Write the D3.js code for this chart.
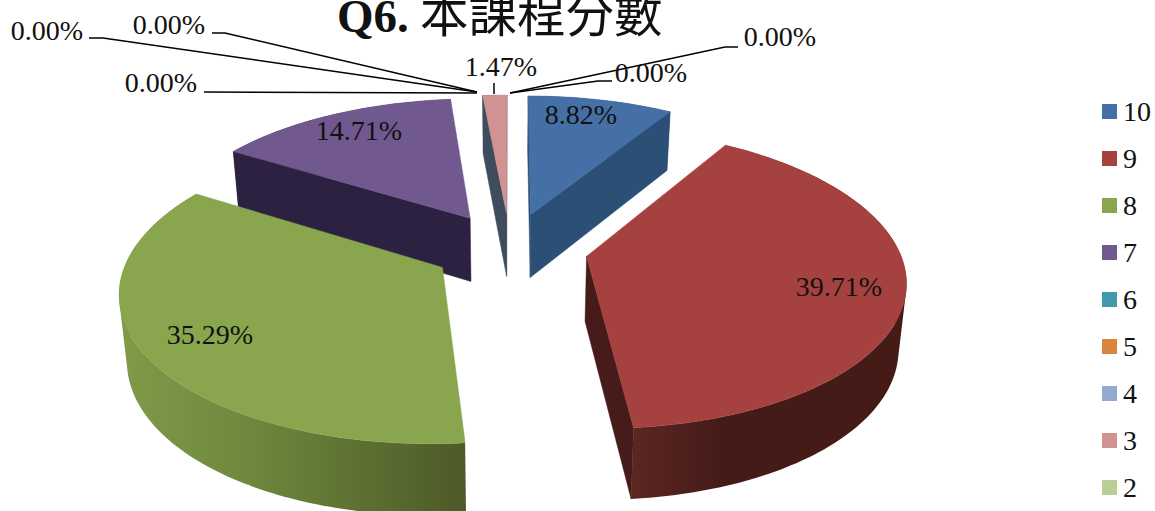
<!DOCTYPE html>
<html><head><meta charset="utf-8">
<script src="https://cdn.jsdelivr.net/npm/d3@7"></script>
<style>
html,body{margin:0;padding:0;background:#fff;overflow:hidden}
svg{display:block}
text{font-family:"Liberation Serif",serif;fill:#111}
</style></head><body>
<svg id="c" width="1155" height="511"></svg>
<script>
// ---- data ----
const categories = ["10","9","8","7","6","5","4","3","2","1"];
const shares = [8.82,39.71,35.29,14.71,0,0,0,1.47,0,0];
const legendItems = ["10","9","8","7","6","5","4","3","2"];
const topColors = ["#4570A6","#A5423F","#89A54E","#71588F","#4198AF","#DB843D","#93A9CF","#D19392","#B9CD96","#A99BBD"];
const sideColors = ["#2C4F76","#471B19","#4F5D2A","#2C2140","#2A6070","#8A5222","#5E6D86","#3E4C5E","#76845F","#6B6278"];
// ---- layout ----
const W = 1155, H = 511;
const cx = 510, cy = 248, explode = 0.25, tilt = 0.145, halfDepth = 64.5, depthTilt = 0.09, baseShrink = 0.98;
const labelText = [
  {i:0,x:581,y:124},{i:1,x:839,y:296},{i:2,x:210,y:344},{i:3,x:359,y:140},
  {i:4,x:47,y:40},{i:5,x:169,y:34},{i:6,x:161,y:92},{i:7,x:501,y:76},{i:8,x:651,y:82},{i:9,x:780,y:46}
];
const leaders = [
  [[89,38],[103,38],[477,92]],
  [[212,33],[225,33],[477,92]],
  [[204,92],[477,93]],
  [[494,83],[494,94]],
  [[612,81],[598,81],[510,93]],
  [[738,47],[725,47],[510,93]]
];
const wallStops = {
  1:[[632,"#5C2723"],[720,"#451B18"],[905,"#451B18"]],
  2:[[120,"#7F9A48"],[240,"#6F8A3F"],[465,"#4D5A28"]]
};
const svg = d3.select("#c");
const defs = svg.append("defs");
Object.keys(wallStops).forEach(i=>{
  const st=wallStops[i], x0=st[0][0], x1=st[st.length-1][0];
  const lg=defs.append("linearGradient").attr("id","wall"+i).attr("gradientUnits","userSpaceOnUse")
    .attr("x1",x0).attr("x2",x1).attr("y1",0).attr("y2",0);
  lg.selectAll("stop").data(st).join("stop")
    .attr("offset",d=>(d[0]-x0)/(x1-x0)).attr("stop-color",d=>d[1]);
});
const xS = d3.scaleLinear().domain([0,1]).range([0,312]);
const yS = d3.scaleLinear().domain([0,1]).range([0,144.6]);
const persp = Y => 1/(1-tilt*Y);
function project(X,Y,low){
  const p = persp(Y);
  const x = xS(X)*p, y = yS(Y)*p;
  return low ? [cx+x*baseShrink, cy+y+halfDepth/(1-depthTilt*Y)] : [cx+x, cy+y];
}
const pie = d3.pie().sort(null).value(d=>d);
const arcs = pie(shares);
const poly = pts => "M"+pts.map(p=>p.join(",")).join("L")+"Z";
const cross=(o,a,b)=>(a[0]-o[0])*(b[1]-o[1])-(a[1]-o[1])*(b[0]-o[0]);
const slices = arcs.map((a,i)=>{
  const mid=(a.startAngle+a.endAngle)/2;
  return {a,i,mid,ox:explode*Math.sin(mid),oy:-explode*Math.cos(mid)};
}).filter(s=>s.a.value>0);
slices.sort((p,q)=>p.oy-q.oy);
const g = svg.append("g");
slices.forEach(s=>{
  const {a,i,mid,ox,oy}=s;
  const P=(t,r)=>[ox+r*Math.sin(t),oy-r*Math.cos(t)];
  const n=Math.max(2,Math.ceil((a.endAngle-a.startAngle)/0.02));
  const ts=d3.range(n+1).map(k=>a.startAngle+(a.endAngle-a.startAngle)*k/n);
  const rim=ts.map(t=>P(t,1));
  const wallFill=wallStops[i]?`url(#wall${i})`:sideColors[i];
  const sg=g.append("g");
  // rim wall: every strip wound the same way, all in one path, so no seams show
  const strips=d3.range(n).map(k=>{
    const q=[project(rim[k][0],rim[k][1]),project(rim[k+1][0],rim[k+1][1]),
             project(rim[k+1][0],rim[k+1][1],true),project(rim[k][0],rim[k][1],true)];
    return poly(d3.polygonArea(q)<0?q.reverse():q);
  }).join("");
  sg.append("path").attr("d",strips).attr("fill",wallFill).attr("fill-rule","nonzero");
  const tip=project(ox,oy), inner=(q=>project(q[0],q[1]))(P(mid,0.8));
  [a.startAngle,a.endAngle].forEach(t=>{
    const [x,y]=P(t,1), end=project(x,y), endLow=project(x,y,true), tipLow=project(ox,oy,true);
    if(cross(tip,end,inner)*cross(tip,end,endLow)<0){
      sg.append("path").attr("d",poly([tip,end,endLow,tipLow]))
        .attr("fill",sideColors[i]).attr("stroke",sideColors[i]).attr("stroke-width",0.5);
    }
  });
  sg.append("path")
    .attr("d",poly([project(ox,oy),...rim.map(q=>project(q[0],q[1]))]))
    .attr("fill",topColors[i]).attr("stroke",topColors[i]).attr("stroke-width",0.5);
});
// leaders
const line=d3.line();
svg.append("g").selectAll("path").data(leaders).join("path")
  .attr("d",d=>line(d)).attr("fill","none").attr("stroke","#000").attr("stroke-width",1.5);
// labels
const fmt=d3.format(".2%");
svg.append("g").selectAll("text").data(labelText).join("text")
  .attr("x",d=>d.x).attr("y",d=>d.y).attr("text-anchor","middle")
  .attr("font-size",28).text(d=>fmt(shares[d.i]/100));
// title
const title=svg.append("text").attr("y",32).attr("font-size",47);
title.append("tspan").attr("x",337).attr("font-weight","bold").text("Q6.");
title.append("tspan").attr("x",420).attr("font-family",'"Noto Sans CJK TC"').attr("font-weight",400).attr("font-size",48.5).text("本課程分數");
// legend
const ly=d3.scalePoint().domain(legendItems).range([111.5,111.5+47*(legendItems.length-1)]);
const lg=svg.append("g").selectAll("g").data(legendItems).join("g").attr("transform",c=>`translate(0,${ly(c)})`);
lg.append("rect").attr("x",1102).attr("y",-7.5).attr("width",15).attr("height",15).attr("fill",(c,i)=>topColors[i]);
lg.append("text").attr("x",1123).attr("y",9.5).attr("font-size",28).text(c=>c);
</script>
</body></html>
